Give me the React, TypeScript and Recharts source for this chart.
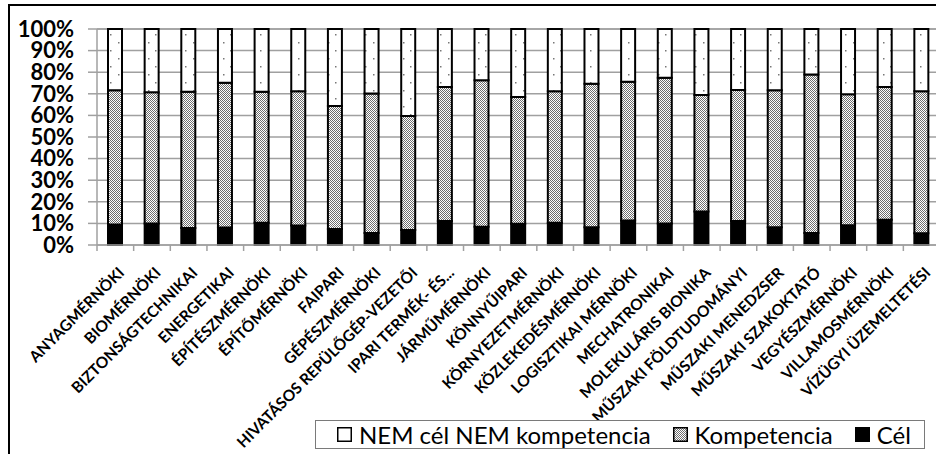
import React from 'react';
import { BarChart, Bar, XAxis, YAxis, CartesianGrid, Legend } from 'recharts';

const categories = [
  'ANYAGMÉRNÖKI',
  'BIOMÉRNÖKI',
  'BIZTONSÁGTECHNIKAI',
  'ENERGETIKAI',
  'ÉPÍTÉSZMÉRNÖKI',
  'ÉPÍTŐMÉRNÖKI',
  'FAIPARI',
  'GÉPÉSZMÉRNÖKI',
  'HIVATÁSOS REPÜLŐGÉP-VEZETŐI',
  'IPARI TERMÉK- ÉS...',
  'JÁRMŰMÉRNÖKI',
  'KÖNNYŰIPARI',
  'KÖRNYEZETMÉRNÖKI',
  'KÖZLEKEDÉSMÉRNÖKI',
  'LOGISZTIKAI MÉRNÖKI',
  'MECHATRONIKAI',
  'MOLEKULÁRIS BIONIKA',
  'MŰSZAKI FÖLDTUDOMÁNYI',
  'MŰSZAKI MENEDZSER',
  'MŰSZAKI SZAKOKTATÓ',
  'VEGYÉSZMÉRNÖKI',
  'VILLAMOSMÉRNÖKI',
  'VÍZÜGYI ÜZEMELTETÉSI',
];

// shares in percent, each column adds up to 100
const cel = [9.5, 10, 7.9, 8.1, 10.3, 9.0, 7.4, 5.5, 7.0, 11.1, 8.4, 9.8, 10.3, 8.2, 11.4, 10.0, 15.5, 11.1, 8.2, 5.5, 9.2, 11.7, 5.4];
const kompetencia = [62.2, 60.7, 63.0, 67.0, 60.6, 62.2, 57.0, 64.6, 52.7, 62.1, 67.9, 58.7, 60.9, 66.5, 64.2, 67.4, 53.9, 60.7, 63.5, 73.4, 60.6, 61.5, 65.8];
const nemNem = [28.3, 29.3, 29.1, 24.9, 29.1, 28.8, 35.6, 29.9, 40.3, 26.8, 23.7, 31.5, 28.8, 25.3, 24.4, 22.6, 30.6, 28.2, 28.3, 21.1, 30.2, 26.8, 28.8];

const yTicks = [0, 10, 20, 30, 40, 50, 60, 70, 80, 90, 100];

const legendItems = [
  { label: 'NEM cél NEM kompetencia', fill: '#ffffff' },
  { label: 'Kompetencia', fill: 'url(#legendKomp)' },
  { label: 'Cél', fill: '#000000' },
];

const data = categories.map((name, i) => ({
  name,
  cel: cel[i],
  kompetencia: kompetencia[i],
  nem: nemNem[i],
}));

const FONT = 'Lato, "Open Sans", sans-serif';
const GRID = '#a0a0a0';

const XTick = (props: any) => {
  const { x, y, payload } = props;
  const off = payload.offset ?? 18.3;
  return (
    <g transform={`translate(${x},${y})`}>
      <line x1={-off} y1={-5} x2={-off} y2={1} stroke={GRID} strokeWidth={1.5} />
      <text
        transform="translate(6,20) rotate(-45)"
        textAnchor="end"
        dy="0.35em"
        fontFamily={FONT}
        fontWeight={700}
        fontSize={15.5}
        fill="#000"
      >
        {payload.value}
      </text>
    </g>
  );
};

const LegendBox = () => (
  <div
    style={{
      width: 608,
      height: 27,
      border: '1px solid #7a7a7a',
      display: 'flex',
      alignItems: 'center',
      fontFamily: FONT,
      fontSize: 24,
      color: '#000',
      background: '#fff',
      whiteSpace: 'nowrap',
    }}
  >
    {legendItems.map((item, i) => (
      <div key={item.label} style={{ display: 'flex', alignItems: 'center', marginLeft: i === 0 ? 21 : 22 }}>
        <svg width={15} height={15} style={{ marginRight: 7 }}>
          <defs>
            <pattern id="legendKomp" width={2} height={2} patternUnits="userSpaceOnUse">
              <rect width={2} height={2} fill="#fff" />
              <rect width={1} height={1} fill="#6e6e6e" />
              <rect x={1} y={1} width={1} height={1} fill="#6e6e6e" />
            </pattern>
          </defs>
          <rect x={0.75} y={0.75} width={13.5} height={13.5} fill={item.fill} stroke="#000" strokeWidth={1.5} />
        </svg>
        <span>{item.label}</span>
      </div>
    ))}
  </div>
);

export default function App() {
  return (
    <div style={{ position: 'absolute', left: 0, top: 0, width: 936, height: 454, overflow: 'hidden', background: '#fff' }}>
      <div
        style={{
          position: 'absolute',
          left: 8,
          top: 4,
          width: 1000,
          height: 470,
          border: '2px solid #000',
          background: '#fff',
        }}
      >
        <BarChart
          width={940}
          height={450}
          data={data}
          margin={{ top: 23, right: 10, left: 0, bottom: 0 }}
          barCategoryGap={0}
        >
          <defs>
            <pattern id="kompPattern" width={2} height={2} patternUnits="userSpaceOnUse">
              <rect width={2} height={2} fill="#ffffff" />
              <rect width={1} height={1} fill="#6e6e6e" />
              <rect x={1} y={1} width={1} height={1} fill="#6e6e6e" />
            </pattern>
            <pattern id="dotPattern" width={15} height={16} patternUnits="userSpaceOnUse">
              <rect width={15} height={16} fill="#ffffff" />
              <rect x={3} y={4} width={1.5} height={1.5} fill="#777777" />
              <rect x={10} y={12} width={1.5} height={1.5} fill="#777777" />
            </pattern>
          </defs>
          <CartesianGrid vertical={false} stroke={GRID} strokeWidth={1.5} />
          <XAxis
            dataKey="name"
            interval={0}
            height={211}
            tickSize={5}
            tickMargin={0}
            tickLine={false}
            axisLine={{ stroke: GRID, strokeWidth: 1.5 }}
            tick={<XTick />}
          />
          <YAxis
            domain={[0, 100]}
            ticks={yTicks}
            interval={0}
            width={87}
            tickSize={9}
            tickMargin={14}
            tickFormatter={(v: number) => `${v}%`}
            axisLine={{ stroke: GRID, strokeWidth: 1.5 }}
            tickLine={{ stroke: GRID, strokeWidth: 1.5 }}
            tick={{ fontFamily: FONT, fontWeight: 700, fontSize: 22, fill: '#000' }}
          />
          <Bar dataKey="cel" name="Cél" stackId="s" barSize={14} fill="#000" stroke="#000" strokeWidth={2} isAnimationActive={false} />
          <Bar dataKey="kompetencia" name="Kompetencia" stackId="s" barSize={14} fill="url(#kompPattern)" stroke="#000" strokeWidth={2} isAnimationActive={false} />
          <Bar dataKey="nem" name="NEM cél NEM kompetencia" stackId="s" barSize={14} fill="url(#dotPattern)" stroke="#000" strokeWidth={2} isAnimationActive={false} />
          <Legend
            layout="horizontal"
            verticalAlign="middle"
            content={<LegendBox />}
            wrapperStyle={{ left: 305, top: 414, width: 610, height: 29 }}
          />
        </BarChart>
      </div>
    </div>
  );
}
